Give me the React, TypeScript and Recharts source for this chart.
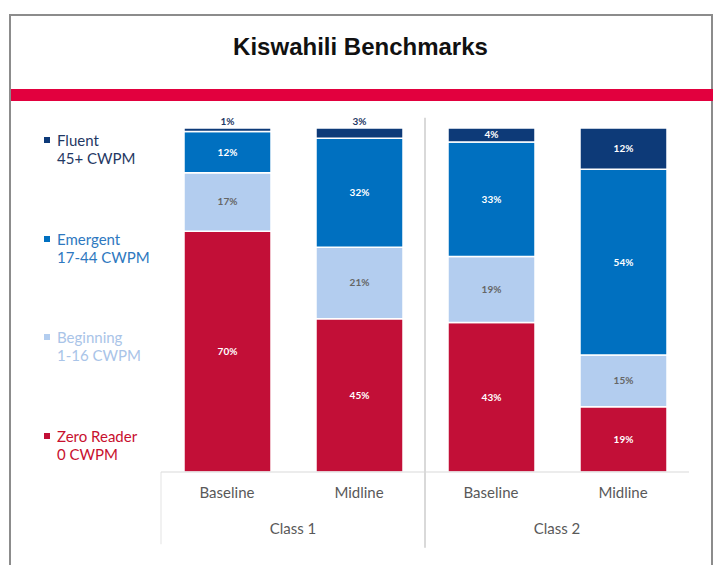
import { BarChart, Bar, XAxis, YAxis, LabelList, ReferenceLine } from 'recharts';

const phases = ['Baseline', 'Midline', 'Baseline', 'Midline'];
const classes = ['Class 1', 'Class 1', 'Class 2', 'Class 2'];
const zeroReader = [70, 45, 43, 19];
const beginning = [17, 21, 19, 15];
const emergent = [12, 32, 33, 54];
const fluent = [1, 3, 4, 12];

const series = [
  { key: 'fluent', name: 'Fluent', sub: '45+ CWPM', color: '#0d3a78', text: '#1f3864' },
  { key: 'emergent', name: 'Emergent', sub: '17-44 CWPM', color: '#0070c0', text: '#2e78c0' },
  { key: 'beginning', name: 'Beginning', sub: '1-16 CWPM', color: '#b3cdef', text: '#a9c4e8' },
  { key: 'zero', name: 'Zero Reader', sub: '0 CWPM', color: '#c20f37', text: '#c8102e' },
];

const data = phases.map((p, i) => ({
  phase: p,
  cls: classes[i],
  zero: zeroReader[i],
  beginning: beginning[i],
  emergent: emergent[i],
  fluent: fluent[i],
}));

const FONT = 'Lato, "Open Sans", sans-serif';

const makeLabel = (kind: string) => (props: any) => {
  const { x, y, width, height, value } = props;
  const cx = Number(x) + Number(width) / 2;
  if (Number(height) < 12) {
    return (
      <text x={cx} y={Number(y) - 3} textAnchor="middle" fontSize={10} fontWeight={700} fill="#1f3864" fontFamily={FONT}>
        {value}%
      </text>
    );
  }
  return (
    <text
      x={cx}
      y={Number(y) + Number(height) / 2}
      dy="0.35em"
      textAnchor="middle"
      fontSize={10}
      fontWeight={700}
      fill={kind === 'beginning' ? '#666666' : '#ffffff'}
      fontFamily={FONT}
    >
      {value}%
    </text>
  );
};

const PhaseTick = (props: any) => {
  const { x, y, payload } = props;
  return (
    <text x={x} y={y} dy="0.75em" textAnchor="middle" fontSize={15} fill="#595959" fontFamily={FONT}>
      {payload.value}
    </text>
  );
};

export default function App() {
  return (
    <div style={{ position: 'absolute', left: 0, top: 0, width: 713, height: 565, overflow: 'hidden', background: '#fff' }}>
      <div
        style={{
          position: 'absolute',
          left: 9,
          top: 14,
          width: 700,
          height: 600,
          borderTop: '2px solid #8c8c8c',
          borderLeft: '2px solid #8c8c8c',
          borderRight: '2px solid #8c8c8c',
        }}
      />
      <div
        style={{
          position: 'absolute',
          left: 0,
          width: 721,
          top: 33,
          textAlign: 'center',
          fontFamily: '"Liberation Sans", Arial, sans-serif',
          fontWeight: 700,
          fontSize: 24,
          color: '#111',
        }}
      >
        Kiswahili Benchmarks
      </div>
      <div style={{ position: 'absolute', left: 11, top: 89, width: 702, height: 12, background: '#e2003e' }} />
      <div style={{ position: 'absolute', left: 0, top: 0 }}>
        <BarChart
          width={713}
          height={565}
          data={data}
          stackOffset="expand"
          margin={{ top: 128, right: 24, bottom: 8, left: 161 }}
        >
          <YAxis hide />
          <XAxis
            dataKey="phase"
            height={35}
            tickSize={0}
            tickMargin={15}
            axisLine={{ stroke: '#d9d9d9' }}
            tickLine={false}
            tick={<PhaseTick />}
            interval={0}
          />
          <XAxis
            xAxisId="cls"
            dataKey="cls"
            allowDuplicatedCategory={false}
            height={50}
            tickSize={0}
            tickMargin={16}
            axisLine={false}
            tickLine={false}
            tick={<PhaseTick />}
          />
          {[...series].reverse().map((s) => (
            <Bar
              key={s.key}
              dataKey={s.key}
              stackId="a"
              fill={s.color}
              stroke="#ffffff"
              strokeWidth={1.5}
              barSize={87}
              isAnimationActive={false}
            >
              <LabelList dataKey={s.key} content={makeLabel(s.key)} />
            </Bar>
          ))}
          <ReferenceLine
            xAxisId="cls"
            position="start"
            ifOverflow="visible"
            stroke="#d9d9d9"
            strokeWidth={2}
            segment={[
              { x: 'Class 2', y: -0.22 },
              { x: 'Class 2', y: 1.03 },
            ]}
          />
          <ReferenceLine
            xAxisId="cls"
            position="start"
            ifOverflow="visible"
            stroke="#e3e3e3"
            strokeWidth={1}
            segment={[
              { x: 'Class 1', y: -0.21 },
              { x: 'Class 1', y: 0 },
            ]}
          />
        </BarChart>
      </div>
      <div style={{ position: 'absolute', left: 44, top: 131, fontFamily: FONT, fontSize: 15, lineHeight: '18px' }}>
        {series.map((s) => (
          <div key={s.key} style={{ height: 98.5, color: s.text, position: 'relative', paddingLeft: 13 }}>
            <span
              style={{ position: 'absolute', left: 0, top: 6, width: 6, height: 6, background: s.color }}
            />
            <div>{s.name}</div>
            <div>{s.sub}</div>
          </div>
        ))}
      </div>
    </div>
  );
}
